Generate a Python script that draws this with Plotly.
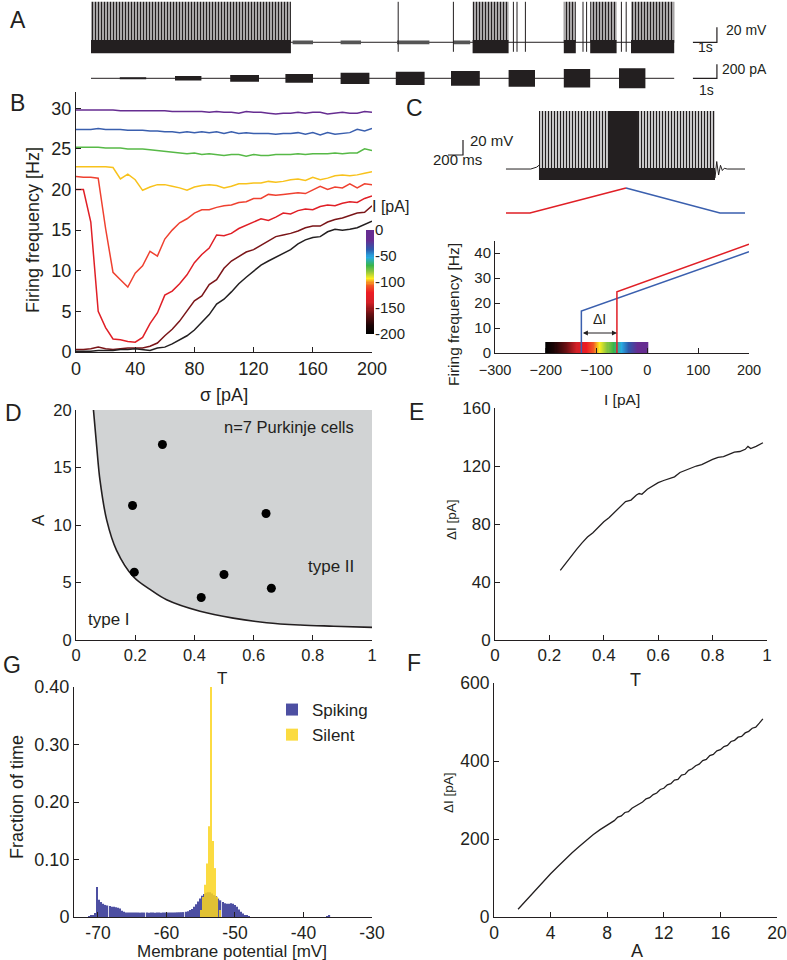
import plotly.graph_objects as go

W, H = 787, 960
INK = '#231f20'
FONT = 'Liberation Sans, Arial, sans-serif'


def px_x(p):
    return p / W


def px_y(p):
    return 1 - p / H


# ---------------- panel A : voltage trace (s, mV) and noisy current steps (s, pA)
a_burst_start = [0.0, 15.9, 19.7, 20.8, 22.5]
a_burst_end = [8.33, 17.4, 20.2, 21.9, 24.3]
a_spike_t = [12.8, 15.1, 17.6, 17.75, 18.1, 20.5, 20.65, 22.1, 22.3]
a_noise_start = [8.4, 10.4, 12.75, 15.1]
a_noise_end = [9.25, 11.25, 14.1, 15.8]
a_trace_end = 24.3
a_rest, a_peak, a_band_top, a_trough = -50, 4, -47, -64.7

a_step_start = [1.2, 3.5, 5.8, 8.1, 10.4, 12.7, 15.0, 17.4, 19.7, 22.0]
a_step_end = [2.3, 4.6, 7.0, 9.25, 11.6, 13.9, 16.2, 18.5, 20.8, 23.1]
a_step_amp = [14, 33, 48, 62, 81, 95, 105, 119, 133, 143]

# ---------------- panel B : firing frequency vs sigma
sigma = list(range(0, 205, 5))
b_purple = [29.8, 29.8, 29.8, 29.8, 29.8, 29.8, 29.7, 29.7, 29.7, 29.7, 29.7, 29.7, 29.7, 29.6, 29.6, 29.6, 29.6,
            29.6, 29.5, 29.6, 29.5, 29.5, 29.4, 29.6, 29.5, 29.5, 29.4, 29.3, 29.4, 29.4, 29.5, 29.4, 29.5, 29.5,
            29.3, 29.4, 29.5, 29.4, 29.4, 29.6, 29.5]
b_blue = [27.4, 27.4, 27.4, 27.5, 27.4, 27.4, 27.4, 27.3, 27.3, 27.3, 27.2, 27.2, 27.1, 27.1, 27.0, 27.1, 27.0,
          27.1, 27.0, 27.1, 26.9, 27.1, 26.9, 27.0, 26.9, 26.9, 26.9, 26.8, 26.9, 26.9, 27.0, 26.8, 27.0, 26.7,
          27.0, 26.8, 26.9, 27.0, 27.4, 27.2, 27.5]
b_green = [25.2, 25.2, 25.2, 25.2, 25.1, 25.1, 25.1, 25.0, 25.0, 25.0, 24.9, 24.8, 24.7, 24.6, 24.5, 24.4, 24.5,
           24.3, 24.4, 24.3, 24.2, 24.3, 24.3, 24.1, 24.3, 24.2, 24.2, 24.3, 24.3, 24.3, 24.4, 24.3, 24.4, 24.4,
           24.4, 24.5, 24.4, 24.5, 24.5, 25.0, 24.8]
b_yellow = [22.8, 22.8, 22.8, 22.8, 22.8, 22.7, 21.3, 21.9, 21.2, 19.9, 20.3, 20.6, 20.6, 20.4, 20.2, 19.9, 20.3,
            20.5, 20.6, 20.5, 20.2, 20.4, 20.7, 20.7, 20.8, 20.8, 21.0, 20.9, 21.0, 21.2, 21.3, 21.1, 21.5, 21.2,
            21.4, 21.7, 21.8, 21.7, 21.8, 22.0, 22.2]
b_red1 = [21.6, 21.5, 21.5, 21.4, 15.2, 9.8, 8.9, 8.0, 9.7, 10.6, 12.4, 11.8, 13.9, 15.0, 15.9, 16.4, 17.1, 17.5,
          17.5, 17.8, 18.0, 18.1, 18.4, 18.5, 18.9, 18.9, 19.4, 19.3, 19.4, 19.5, 19.6, 19.5, 19.9, 20.4, 20.0,
          20.3, 20.2, 20.7, 20.2, 20.7, 20.6]
b_red2 = [20.0, 20.0, 16.0, 5.0, 3.0, 1.6, 1.5, 1.3, 1.2, 1.8, 3.5, 4.8, 7.0, 7.5, 8.4, 9.5, 11.0, 12.0, 12.8,
          14.4, 14.3, 14.6, 15.2, 15.6, 15.9, 16.4, 16.2, 16.6, 17.1, 17.0, 17.4, 17.6, 17.5, 17.9, 18.1, 18.0,
          18.3, 18.5, 18.4, 18.9, 19.2]
b_darkred = [0.3, 0.3, 0.4, 0.6, 0.4, 0.3, 0.4, 0.5, 0.5, 0.5, 0.7, 1.1, 2.0, 2.8, 3.8, 5.0, 6.3, 6.9, 8.3, 8.9,
             10.3, 11.2, 11.8, 12.3, 12.6, 13.1, 13.6, 14.2, 14.4, 14.6, 14.9, 15.3, 15.5, 15.5, 16.0, 16.3, 16.5,
             16.8, 17.1, 17.2, 18.0]
b_black = [0.1, 0.1, 0.1, 0.2, 0.2, 0.2, 0.3, 0.3, 0.4, 0.3, 0.2, 0.5, 0.6, 1.0, 1.5, 2.0, 2.7, 3.6, 4.6, 5.9, 6.5,
           7.4, 8.4, 9.2, 10.0, 10.7, 11.2, 11.7, 12.1, 12.6, 13.3, 13.8, 14.1, 14.2, 14.8, 15.1, 15.0, 15.1, 15.3,
           15.7, 16.1]
b_curves = [b_purple, b_blue, b_green, b_yellow, b_red1, b_red2, b_darkred, b_black]
b_colors = ['#662d91', '#3a5fae', '#57b947', '#f8c21c', '#ef4130', '#e01f26', '#7a1518', INK]
i_ticks = [0, -50, -100, -150, -200]
cbar_levels = list(range(-200, 1, 2))   # colour key for the injected current I

# ---------------- panel C : ramp response (ms, mV) and f-I curves
c_pre_t = [0, 330, 410, 440]
c_pre_v = [-60, -60, -57.5, -55]
c_spk_start, c_spk_end = 440, 2787
c_dense_start, c_dense_end = 1360, 1760
c_post_t = [2787, 2810, 2835, 2860, 2885, 2910, 2950, 3187]
c_post_v = [-72, -50, -68, -55, -62, -59, -60, -60]
c_rest, c_peak, c_band_top, c_trough = -60, 17.3, -58.7, -74.7
c_ramp_up_t, c_ramp_up = [0, 320, 1600], [0, 0, 1]
c_ramp_dn_t, c_ramp_dn = [1600, 2853, 3187], [1, 0, 0]
c_up_I, c_up_F = [-60, -60, 200], [0, 24.5, 43.5]
c_dn_I, c_dn_F = [-130, -130, 200], [0, 16.8, 40.5]
c_key_top = 4.4

# ---------------- panel D : bifurcation boundary and cells
d_curve_T = [0.059, 0.07, 0.081, 0.104, 0.137, 0.194, 0.25, 0.306, 0.419, 0.531, 0.644, 0.757, 0.87, 1.0]
d_curve_A = [20.0, 16.8, 13.9, 10.4, 7.8, 5.5, 4.4, 3.5, 2.5, 1.9, 1.5, 1.3, 1.2, 1.1]
d_cell_T = [0.292, 0.191, 0.642, 0.197, 0.5, 0.66, 0.423]
d_cell_A = [17.0, 11.7, 11.0, 5.9, 5.7, 4.5, 3.7]

# ---------------- panel E : delta I vs T
e_T = [0.24, 0.26, 0.28, 0.30, 0.32, 0.34, 0.36, 0.38, 0.40, 0.42, 0.44, 0.46, 0.48, 0.50, 0.52, 0.53, 0.54,
       0.56, 0.58, 0.60, 0.62, 0.64, 0.66, 0.68, 0.70, 0.72, 0.74, 0.76, 0.78, 0.80, 0.82, 0.84, 0.86, 0.88,
       0.90, 0.92, 0.93, 0.94, 0.96, 0.985]
e_dI = [48, 53, 58, 62.5, 67, 71, 74, 78, 81.5, 84.5, 88, 91.5, 95.5, 96.5, 100, 101, 100.5, 104, 106.5, 108.5,
        110, 111.5, 112.5, 115.5, 117, 119, 120, 121, 123, 124.5, 126, 126.5, 128, 129.5, 130, 131.5, 133.5, 132,
        133.5, 136]

# ---------------- panel F : delta I vs A
f_A = [1.7, 2.0, 2.5, 3.0, 3.5, 4.0, 4.5, 5.0, 5.5, 6.0, 6.5, 7.0, 7.5, 8.0, 8.25, 8.5, 8.75, 9.0, 9.25, 9.5,
       9.75, 10.0, 10.25, 10.5, 10.75, 11.0, 11.25, 11.5, 11.75, 12.0, 12.25, 12.5, 12.75, 13.0, 13.25, 13.5,
       13.75, 14.0, 14.25, 14.5, 14.75, 15.0, 15.25, 15.5, 15.75, 16.0, 16.25, 16.5, 16.75, 17.0, 17.25, 17.5,
       17.75, 18.0, 18.25, 18.5, 18.75, 19.0]
f_dI = [20, 32, 52, 72, 92, 111, 129, 147, 164, 180, 196, 211, 224, 236, 243, 247, 256, 259, 268, 270, 279, 284,
        290, 295, 303, 306, 314, 318, 327, 330, 339, 342, 351, 353, 364, 366, 376, 380, 388, 392, 401, 404, 414,
        417, 426, 429, 437, 440, 450, 453, 461, 463, 472, 476, 484, 487, 497, 508]

# ---------------- panel G : membrane potential histograms (0.3 mV bins)
g_bin = 0.3
g_spk_start = -71.3
g_spiking = [0.001, 0.002, 0.003, 0.007, 0.052, 0.030, 0.026, 0.023, 0.021, 0.020, 0.019, 0.018, 0.018, 0.017,
             0.016, 0.015, 0.011, 0.009,
             0.008, 0.0078, 0.008, 0.0079, 0.0077, 0.008, 0.0078, 0.0076, 0.0078, 0.0077, 0.0078, 0.0076, 0.0077,
             0.0078, 0.0076, 0.0077, 0.0078, 0.0076, 0.0077, 0.0078, 0.0077, 0.0078, 0.0079, 0.008, 0.0079,
             0.0081, 0.0082, 0.0083, 0.0085,
             0.009, 0.010, 0.012, 0.014, 0.018, 0.022, 0.027, 0.032, 0.037, 0.040, 0.042, 0.043, 0.043, 0.041,
             0.038, 0.036, 0.032, 0.029, 0.026, 0.024, 0.023, 0.023, 0.024, 0.023, 0.021, 0.018, 0.013, 0.009,
             0.006, 0.003, 0.002, 0.001]
g_slnt_start = -54.95
g_silent = [0.012, 0.035, 0.056, 0.093, 0.158, 0.400, 0.132, 0.085, 0.035, 0.012]
g_tail_x = [-36.5, -36.2]
g_tail_y = [0.001, 0.002]

cscale = [[0.0, '#000000'], [0.08, '#1a0405'], [0.2, '#6d1014'], [0.3, '#d21f26'], [0.4, '#ed1c24'],
          [0.47, '#f15a24'], [0.53, '#fcee21'], [0.6, '#8cc63f'], [0.66, '#39b54a'], [0.74, '#29abe2'],
          [0.81, '#2e5aac'], [0.9, '#662d91'], [1.0, '#662d91']]


def rect_poly(x0s, x1s, lo, hi):
    xs, ys = [], []
    for i, (a, b) in enumerate(zip(x0s, x1s)):
        l = lo[i] if isinstance(lo, list) else lo
        h = hi[i] if isinstance(hi, list) else hi
        xs += [a, b, b, a, a, None]
        ys += [l, l, h, h, l, None]
    return xs, ys


fig = go.Figure()


def line(x, y, ax, color=INK, width=1.2, **kw):
    fig.add_trace(go.Scatter(x=x, y=y, mode='lines', line=dict(color=color, width=width),
                             xaxis='x' + ax, yaxis='y' + ax, showlegend=False, hoverinfo='skip', **kw))


def filled(xs, ys, ax, color=INK, pattern=None, solidity=0.5):
    kw = dict(fillcolor=color)
    if pattern:
        kw = dict(fillpattern=dict(shape='|', size=pattern, solidity=solidity, fgcolor=INK, bgcolor='white'))
    fig.add_trace(go.Scatter(x=xs, y=ys, mode='lines', fill='toself', line=dict(width=0, color=color),
                             xaxis='x' + ax, yaxis='y' + ax, showlegend=False, hoverinfo='skip', **kw))


# ---- A
line([0, a_trace_end], [a_rest, a_rest], '', width=1)
xs, ys = rect_poly(a_burst_start, a_burst_end, a_rest, a_peak)
filled(xs, ys, '', pattern=3, solidity=0.6)
xs, ys = rect_poly(a_burst_start, a_burst_end, a_trough, a_band_top)
filled(xs, ys, '')
xs, ys = rect_poly(a_noise_start, a_noise_end, a_rest - 2.5, a_rest + 2.5)
filled(xs, ys, '', color='#555555')
sx, sy = [], []
for t in a_spike_t:
    sx += [t, t, None]
    sy += [a_trough + 2, a_peak, None]
line(sx, sy, '', width=1)
line([25.08, 26.08, 26.08], [-50, -50, -30], '')

line([0, a_trace_end], [0, 0], '2', width=1)
xs, ys = rect_poly(a_step_start, a_step_end, [-a for a in a_step_amp], a_step_amp)
filled(xs, ys, '2')
line([25.08, 26.08, 26.08], [0, 0, 200], '2')

# ---- B
for vals, col in zip(b_curves, b_colors):
    line(sigma, vals, '3', color=col, width=1.5)
fig.add_trace(go.Heatmap(z=[[v] for v in cbar_levels], y=cbar_levels, x=[0, 1], colorscale=cscale,
                         zmin=-200, zmax=0, showscale=False, hoverinfo='skip', xaxis='x11', yaxis='y11'))

# ---- C
line(c_pre_t, c_pre_v, '4', width=1)
line(c_post_t, c_post_v, '4', width=1)
xs, ys = rect_poly([c_spk_start], [c_spk_end], c_rest, c_peak)
filled(xs, ys, '4', pattern=3)
xs, ys = rect_poly([c_dense_start], [c_dense_end], c_rest, c_peak)
filled(xs, ys, '4')
xs, ys = rect_poly([c_spk_start], [c_spk_end], c_trough, c_band_top)
filled(xs, ys, '4')
line([-773, -573, -573], [-41.3, -41.3, -21.3], '4')
line(c_ramp_up_t, c_ramp_up, '5', color='#e01f26', width=1.5)
line(c_ramp_dn_t, c_ramp_dn, '5', color='#3a5fae', width=1.5)
line(c_dn_I, c_dn_F, '6', color='#3a5fae', width=1.5)
line(c_up_I, c_up_F, '6', color='#e01f26', width=1.5)
fig.add_trace(go.Heatmap(z=[cbar_levels], x=cbar_levels, y=[0, c_key_top], colorscale=cscale,
                         zmin=-200, zmax=0, showscale=False, hoverinfo='skip', xaxis='x6', yaxis='y6'))

# ---- D
filled(d_curve_T + [1.0, d_curve_T[0]], d_curve_A + [20, 20], '7', color='#d1d3d4')
line(d_curve_T, d_curve_A, '7', width=1.6, line_shape='spline')
fig.add_trace(go.Scatter(x=d_cell_T, y=d_cell_A, mode='markers', marker=dict(color='black', size=9),
                         xaxis='x7', yaxis='y7', showlegend=False, hoverinfo='skip'))

# ---- E, F
line(e_T, e_dI, '8', width=1.3)
line(f_A, f_dI, '9', width=1.3)

# ---- G
g_spk_x = [g_spk_start + g_bin * i for i in range(len(g_spiking))]
g_sil_x = [g_slnt_start + g_bin * i for i in range(len(g_silent))]
fig.add_trace(go.Bar(x=g_spk_x + g_tail_x, y=g_spiking + g_tail_y, width=0.18, name='Spiking', opacity=0.85,
                     marker=dict(color='#2e3192', line=dict(width=0)), xaxis='x10', yaxis='y10'))
fig.add_trace(go.Bar(x=g_sil_x, y=g_silent, width=0.16, name='Silent', opacity=0.85,
                     marker=dict(color='#fbd521', line=dict(width=0)), xaxis='x10', yaxis='y10'))


def axis(dom_px, rng, anchor, vertical=False, tickvals=None, ticktext=None, size=17, visible=True):
    if vertical:
        dom = [px_y(dom_px[1]), px_y(dom_px[0])]
    else:
        dom = [px_x(dom_px[0]), px_x(dom_px[1])]
    d = dict(domain=dom, range=rng, anchor=anchor, showgrid=False, zeroline=False, fixedrange=True,
             automargin=False)
    if not visible:
        d.update(visible=False)
        return d
    d.update(showline=True, linecolor=INK, linewidth=1, ticks='inside', ticklen=5, tickwidth=1,
             tickcolor=INK, tickvals=tickvals, tickfont=dict(size=size, color=INK, family=FONT))
    if ticktext is not None:
        d['ticktext'] = ticktext
    return d


key_axis = axis([230, 334], [-200, 0], 'x11', vertical=True, tickvals=i_ticks,
                ticktext=[str(v) for v in i_ticks], size=15)
key_axis.update(showline=False, ticks='', side='right')
c_iaxis = axis([495, 749], [-300, 200], 'y6', tickvals=[-300, -200, -100, 0, 100, 200], size=14.5)
c_iaxis.update(ticklabelstandoff=4)

layout_axes = dict(
    xaxis=axis([91, 787], [0, 29], 'y', visible=False),
    yaxis=axis([0, 56], [-68.3, 6.4], 'x', vertical=True, visible=False),
    xaxis2=axis([91, 787], [0, 29], 'y2', visible=False),
    yaxis2=axis([60, 95], [-238.6, 261.4], 'x2', vertical=True, visible=False),
    xaxis3=axis([76, 372], [0, 200], 'y3', tickvals=[0, 40, 80, 120, 160, 200], size=18),
    yaxis3=axis([92, 352], [0, 32], 'x3', vertical=True, tickvals=[0, 5, 10, 15, 20, 25, 30], size=18),
    xaxis4=axis([430, 760], [-1013, 3387], 'y4', visible=False),
    yaxis4=axis([100, 185], [-81.3, 32], 'x4', vertical=True, visible=False),
    xaxis5=axis([430, 760], [-1013, 3387], 'y5', visible=False),
    yaxis5=axis([180, 222], [-0.36, 1.32], 'x5', vertical=True, visible=False),
    xaxis6=c_iaxis,
    yaxis6=axis([240.5, 353], [0, 45], 'x6', vertical=True, tickvals=[0, 10, 20, 30, 40], size=15),
    xaxis7=axis([76, 372], [0, 1], 'y7', tickvals=[0, 0.2, 0.4, 0.6, 0.8, 1],
                ticktext=['0', '0.2', '0.4', '0.6', '0.8', '1'], size=16.5),
    yaxis7=axis([410, 640], [0, 20], 'x7', vertical=True, tickvals=[0, 5, 10, 15, 20], size=16.5),
    xaxis8=axis([495, 767], [0, 1], 'y8', tickvals=[0, 0.2, 0.4, 0.6, 0.8, 1],
                ticktext=['0', '0.2', '0.4', '0.6', '0.8', '1'], size=17),
    yaxis8=axis([408, 640], [0, 160], 'x8', vertical=True, tickvals=[0, 40, 80, 120, 160], size=17),
    xaxis9=axis([494, 777], [0, 20], 'y9', tickvals=[0, 4, 8, 12, 16, 20], size=17.5),
    yaxis9=axis([683, 917], [0, 600], 'x9', vertical=True, tickvals=[0, 200, 400, 600], size=17.5),
    xaxis10=axis([74, 372], [-73.5, -30], 'y10', tickvals=[-70, -60, -50, -40, -30],
                 ticktext=['-70', '-60', '-50', '-40', '-30'], size=17.5),
    yaxis10=axis([687, 917], [0, 0.4], 'x10', vertical=True, tickvals=[0, 0.1, 0.2, 0.3, 0.4],
                 ticktext=['0', '0.10', '0.20', '0.30', '0.40'], size=18),
    xaxis11=axis([366, 374], [0, 1], 'y11', visible=False),
    yaxis11=key_axis,
)

ann = []


def text(x, y, s, size, angle=0, xanchor='center', ref=None):
    if ref:
        ann.append(dict(x=x, y=y, xref='x' + ref, yref='y' + ref, text=s, showarrow=False, xanchor=xanchor,
                        yanchor='middle', font=dict(size=size, color=INK, family=FONT), textangle=angle))
    else:
        ann.append(dict(x=px_x(x), y=px_y(y), xref='paper', yref='paper', text=s, showarrow=False,
                        xanchor=xanchor, yanchor='middle', font=dict(size=size, color=INK, family=FONT),
                        textangle=angle))


# panel letters
for lab, x, y in [('A', 18, 20), ('B', 17, 103), ('C', 414, 108), ('D', 13, 413), ('E', 416, 412),
                  ('G', 12, 665), ('F', 414, 663)]:
    text(x, y, lab, 23)

# scale bar labels
text(724, 30, '20 mV', 14, xanchor='left')
text(705, 47, '1s', 14)
text(720, 69, '200 pA', 14, xanchor='left')
text(706, 90, '1s', 14)
text(468, 141, '20 mV', 15, xanchor='left')
text(457, 160, '200 ms', 15)

# axis titles
text(33, 230, 'Firing frequency [Hz]', 18, angle=-90)
text(224, 395, 'σ [pA]', 18)
text(390, 206, 'I [pA]', 16)
text(453, 315, 'Firing frequency [Hz]', 15.5, angle=-90)
text(622, 399, 'I [pA]', 15.5)
text(38, 520, 'A', 17, angle=-90)
text(222, 678, 'T', 17)
text(451, 520, 'ΔI [pA]', 13.5, angle=-90)
text(635, 680, 'T', 18)
text(448, 793, 'ΔI [pA]', 13.5, angle=-90)
text(637, 951, 'A', 18)
text(17, 797, 'Fraction of time', 18, angle=-90)
text(232, 951, 'Membrane potential [mV]', 17)

# panel D / C labels in data units
text(0.72, 18.5, 'n=7 Purkinje cells', 16.5, ref='7')
text(0.86, 6.4, 'type II', 17, ref='7')
text(0.11, 1.8, 'type I', 17, ref='7')
text(-95, 13.5, 'ΔI', 14, ref='6')
ann.append(dict(x=-60, y=8, ax=-130, ay=8, xref='x6', yref='y6', axref='x6', ayref='y6', text='',
                showarrow=True, arrowhead=2, arrowside='end+start', arrowsize=1, arrowwidth=1, arrowcolor=INK))

fig.update_layout(
    template='none',
    width=W, height=H, margin=dict(l=0, r=0, t=0, b=0, pad=0), autosize=False,
    paper_bgcolor='white', plot_bgcolor='rgba(0,0,0,0)', barmode='overlay',
    font=dict(family=FONT, color=INK),
    legend=dict(x=px_x(272), y=px_y(692), xanchor='left', yanchor='top', bgcolor='rgba(0,0,0,0)',
                font=dict(size=17, color=INK, family=FONT), itemwidth=30, tracegroupgap=0),
    annotations=ann,
    **layout_axes,
)

# the page's default body margin would push the 787x960 figure off the window
fig.write_html('out.html', config={'displayModeBar': False},
               post_script="document.body.style.margin='0';")
